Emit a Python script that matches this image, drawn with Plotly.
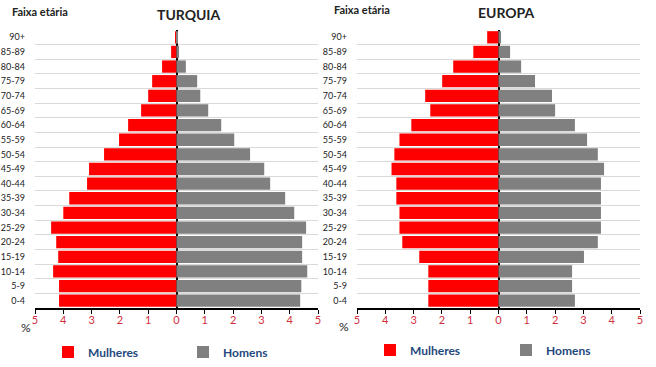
import plotly.graph_objects as go

ages = ["0-4", "5-9", "10-14", "15-19", "20-24", "25-29", "30-34", "35-39", "40-44",
        "45-49", "50-54", "55-59", "60-64", "65-69", "70-74", "75-79", "80-84", "85-89", "90+"]

turquia_mulheres = [4.15, 4.15, 4.36, 4.18, 4.25, 4.43, 4.00, 3.79, 3.16,
                    3.09, 2.56, 2.03, 1.71, 1.25, 1.00, 0.86, 0.51, 0.19, 0.05]
turquia_homens = [4.37, 4.41, 4.62, 4.44, 4.44, 4.58, 4.16, 3.84, 3.31,
                  3.10, 2.60, 2.04, 1.58, 1.12, 0.84, 0.73, 0.33, 0.09, 0.04]

europa_mulheres = [2.48, 2.48, 2.48, 2.80, 3.40, 3.50, 3.50, 3.61, 3.61,
                   3.78, 3.68, 3.50, 3.08, 2.41, 2.59, 1.99, 1.60, 0.89, 0.40]
europa_homens = [2.70, 2.60, 2.60, 3.02, 3.51, 3.62, 3.62, 3.62, 3.62,
                 3.73, 3.51, 3.13, 2.70, 2.00, 1.89, 1.29, 0.80, 0.41, 0.09]

x_ticks = [-5, -4, -3, -2, -1, 0, 1, 2, 3, 4, 5]
x_ticktext = ["5", "4", "3", "2", "1", "0", "1", "2", "3", "4", "5"]

RED = "#FF0000"
GRAY = "#808080"
FONT = "Lato"
pos = list(range(len(ages)))

fig = go.Figure()

def add_pair(women, men, xa, ya, legend):
    fig.add_trace(go.Bar(y=pos, x=[-v for v in women], orientation="h", name="Mulheres",
                         marker=dict(color=RED, line=dict(width=0)), xaxis=xa, yaxis=ya,
                         legend=legend, customdata=women,
                         hovertemplate="%{customdata}<extra>Mulheres</extra>"))
    fig.add_trace(go.Bar(y=pos, x=men, orientation="h", name="Homens",
                         marker=dict(color=GRAY, line=dict(width=0)), xaxis=xa, yaxis=ya,
                         legend=legend,
                         hovertemplate="%{x}<extra>Homens</extra>"))

add_pair(turquia_mulheres, turquia_homens, "x", "y", "legend")
add_pair(europa_mulheres, europa_homens, "x2", "y2", "legend2")

W, H = 656, 367


def px(x):
    return x / W


def py(y):
    return 1 - y / H


xaxis_common = dict(range=[-5, 5], tickmode="array", tickvals=x_ticks, ticktext=x_ticktext,
                    showgrid=False, zeroline=True, zerolinecolor="black", zerolinewidth=1.5,
                    showline=True, linecolor="black", linewidth=1.5,
                    ticks="outside", ticklen=4, tickcolor="black", tickwidth=1,
                    ticklabelstandoff=-3,
                    tickfont=dict(family=FONT, size=11, color="#D0303C"),
                    automargin=False, fixedrange=True)
yaxis_common = dict(range=[-0.5, len(ages) - 0.5], tickmode="array", tickvals=pos, ticktext=ages,
                    showgrid=False, zeroline=False, showline=False, ticks="",
                    tickfont=dict(family=FONT, size=9, color="#222222"), ticklabelstandoff=9,
                    minor=dict(tick0=-0.5, dtick=1, showgrid=True, gridcolor="#D9D9D9", gridwidth=1),
                    automargin=False, fixedrange=True)

legend_common = dict(orientation="h", xanchor="left", yanchor="middle",
                     entrywidthmode="pixels", itemwidth=30,
                     font=dict(family=FONT, size=12, color="#1F497D", weight="bold"),
                     bgcolor="rgba(0,0,0,0)", traceorder="normal")

fig.update_layout(
    width=W, height=H,
    margin=dict(l=0, r=0, t=0, b=0, autoexpand=False),
    paper_bgcolor="white", plot_bgcolor="white",
    barmode="relative", bargap=0.16,
    font=dict(family=FONT, color="#222222"),
    xaxis=dict(domain=[px(35), px(318)], anchor="y", **xaxis_common),
    yaxis=dict(domain=[py(308), py(30)], anchor="x", **yaxis_common),
    xaxis2=dict(domain=[px(357), px(640)], anchor="y2", **xaxis_common),
    yaxis2=dict(domain=[py(308), py(30)], anchor="x2", **yaxis_common),
    legend=dict(x=px(48), y=py(352), entrywidth=90, **legend_common),
    legend2=dict(x=px(370), y=py(350), entrywidth=91, **legend_common),
    showlegend=True,
)

annotations = [
    dict(text="Faixa etária", x=px(10), y=py(11), xanchor="left", yanchor="middle",
         font=dict(family=FONT, size=11, color="#222222", weight="bold")),
    dict(text="TURQUIA", x=px(189), y=py(14), xanchor="center", yanchor="middle",
         font=dict(family=FONT, size=14, color="#222222", weight="bold")),
    dict(text="Faixa etária", x=px(332), y=py(9), xanchor="left", yanchor="middle",
         font=dict(family=FONT, size=11, color="#222222", weight="bold")),
    dict(text="EUROPA", x=px(506), y=py(12), xanchor="center", yanchor="middle",
         font=dict(family=FONT, size=14, color="#222222", weight="bold")),
    dict(text="%", x=px(26), y=py(327), xanchor="center", yanchor="middle",
         font=dict(family=FONT, size=12, color="#222222")),
    dict(text="%", x=px(344), y=py(326), xanchor="center", yanchor="middle",
         font=dict(family=FONT, size=12, color="#222222")),
]
for a in annotations:
    a.update(xref="paper", yref="paper", showarrow=False)
fig.update_layout(annotations=annotations)

# remove the browser's default 8px page margin so the figure sits at the window's corner
fig.write_html("out.html", config={"displayModeBar": False},
               post_script="document.body.style.margin='0';document.body.style.overflow='hidden';")
